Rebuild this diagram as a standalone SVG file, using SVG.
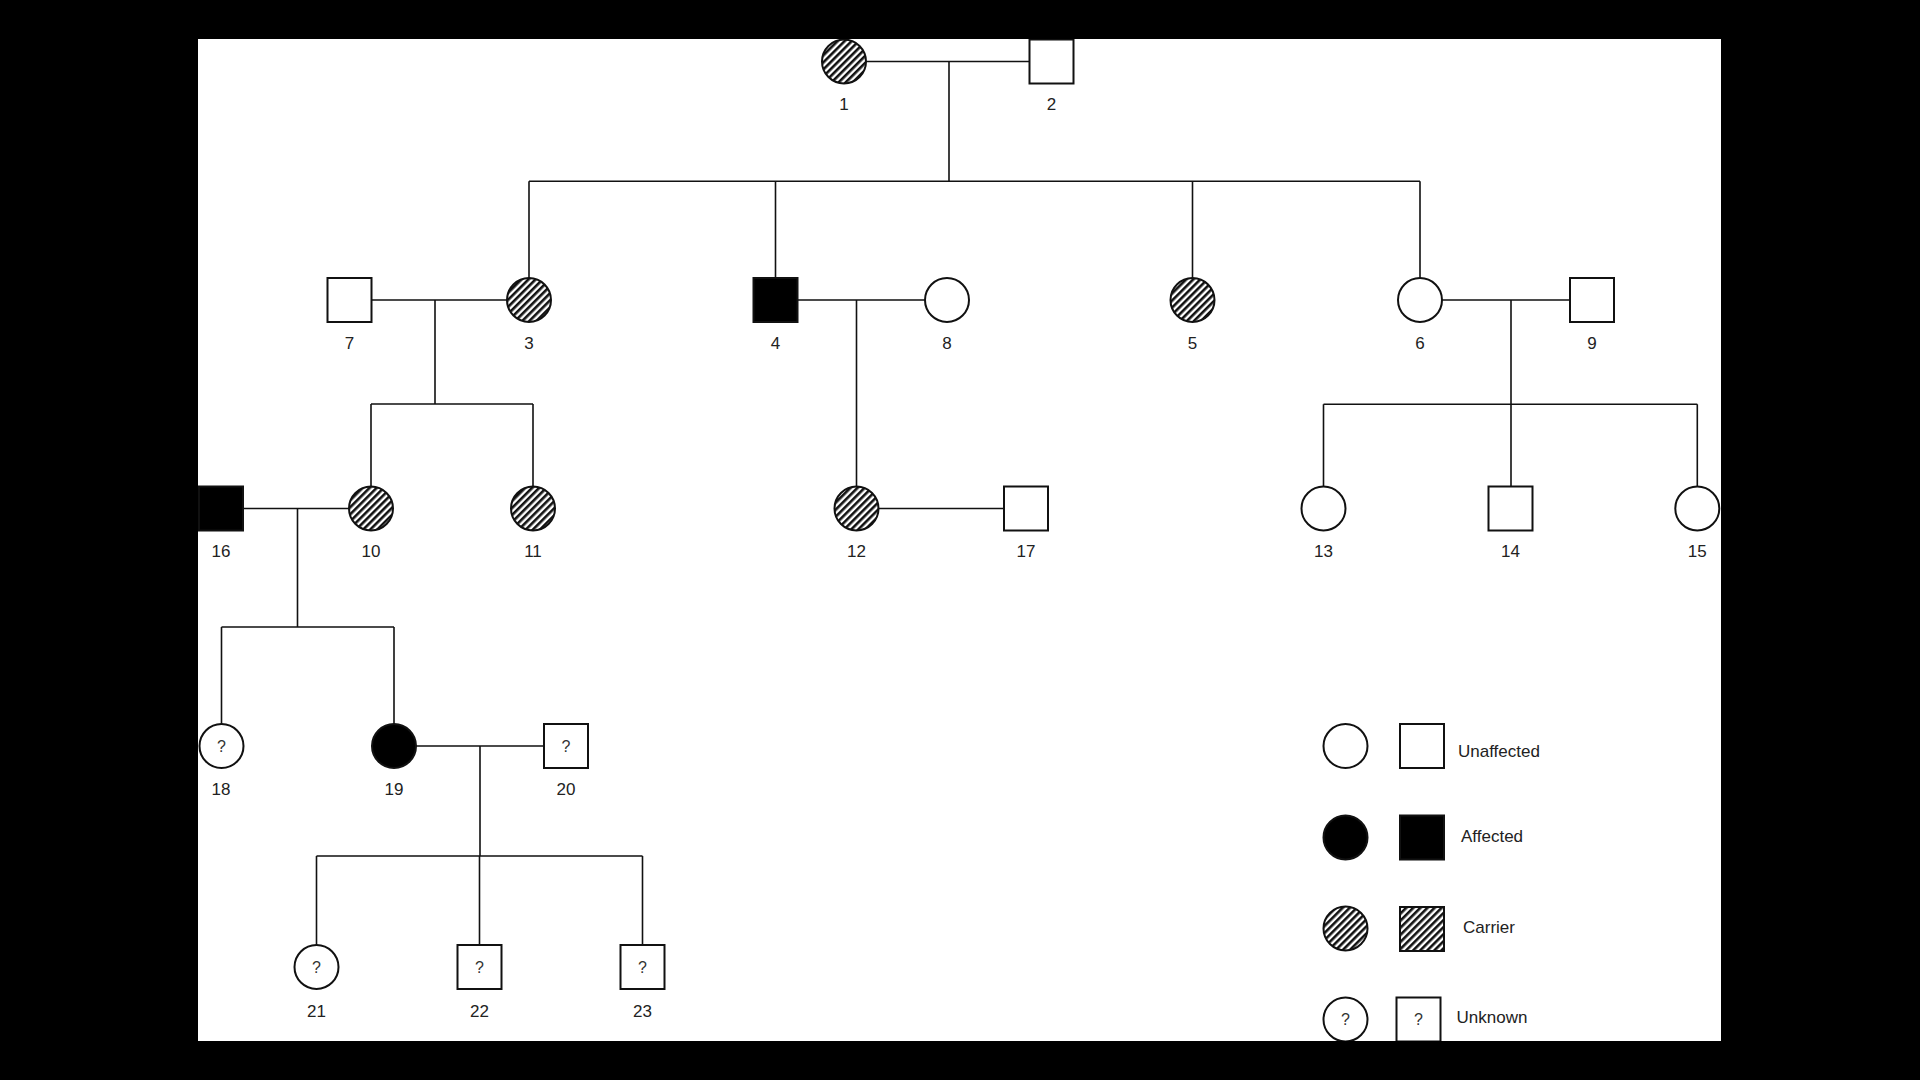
<svg xmlns="http://www.w3.org/2000/svg" width="1920" height="1080" viewBox="0 0 1920 1080">
<defs>
<pattern id="hatch" width="5" height="5" patternUnits="userSpaceOnUse" patternTransform="rotate(45)">
<rect width="5" height="5" fill="#fff"/>
<rect width="2.6" height="5" fill="#111"/>
</pattern>
<style>
.ln{stroke:#111;stroke-width:1.6;fill:none}
.nd{stroke:#111;stroke-width:2;fill:#fff}
.aff{fill:#000}
.car{fill:url(#hatch)}
.lbl{font-family:"Liberation Sans",Arial,sans-serif;font-size:17px;fill:#222;text-anchor:middle}
.q{font-family:"Liberation Sans",Arial,sans-serif;font-size:16px;fill:#333;text-anchor:middle}
.leg{font-family:"Liberation Sans",Arial,sans-serif;font-size:17px;fill:#222}
</style>
</defs>
<rect x="0" y="0" width="1920" height="1080" fill="#000"/>
<rect x="198" y="39" width="1523" height="1002" fill="#fff"/>

<g id="connectors" class="ln">
<path d="M866,61.5H1029.5M949,61.5V181.3M529,181.3H1420M529,181.3V278M775.5,181.3V278M1192.5,181.3V278M1420,181.3V278"/>
<path d="M371.5,300H507M435,300V404M371,404H533M371,404V486.5M533,404V486.5"/>
<path d="M797.5,300H925M856.5,300V486.5"/>
<path d="M1442,300H1570M1511,300V486.5M1323.5,404.3H1697.3M1323.5,404.3V486.5M1697.3,404.3V486.5"/>
<path d="M243,508.5H349M297.5,508.5V627M221.5,627H394M221.5,627V724M394,627V724"/>
<path d="M878.5,508.5H1004"/>
<path d="M416,746H544M480,746V856M316.5,856H642.5M316.5,856V945M479.5,856V945M642.5,856V945"/>
</g>

<g id="n1"><circle class="nd car" cx="844" cy="61.5" r="22"/><text class="lbl" x="844" y="110">1</text></g>
<g id="n2"><rect class="nd" x="1029.5" y="39.5" width="44" height="44"/><text class="lbl" x="1051.5" y="110">2</text></g>

<g id="n7"><rect class="nd" x="327.5" y="278" width="44" height="44"/><text class="lbl" x="349.5" y="349">7</text></g>
<g id="n3"><circle class="nd car" cx="529" cy="300" r="22"/><text class="lbl" x="529" y="349">3</text></g>
<g id="n4"><rect class="nd aff" x="753.5" y="278" width="44" height="44"/><text class="lbl" x="775.5" y="349">4</text></g>
<g id="n8"><circle class="nd" cx="947" cy="300" r="22"/><text class="lbl" x="947" y="349">8</text></g>
<g id="n5"><circle class="nd car" cx="1192.5" cy="300" r="22"/><text class="lbl" x="1192.5" y="349">5</text></g>
<g id="n6"><circle class="nd" cx="1420" cy="300" r="22"/><text class="lbl" x="1420" y="349">6</text></g>
<g id="n9"><rect class="nd" x="1570" y="278" width="44" height="44"/><text class="lbl" x="1592" y="349">9</text></g>

<g id="n16"><rect class="nd aff" x="199" y="486.5" width="44" height="44"/><text class="lbl" x="221" y="557">16</text></g>
<g id="n10"><circle class="nd car" cx="371" cy="508.5" r="22"/><text class="lbl" x="371" y="557">10</text></g>
<g id="n11"><circle class="nd car" cx="533" cy="508.5" r="22"/><text class="lbl" x="533" y="557">11</text></g>
<g id="n12"><circle class="nd car" cx="856.5" cy="508.5" r="22"/><text class="lbl" x="856.5" y="557">12</text></g>
<g id="n17"><rect class="nd" x="1004" y="486.5" width="44" height="44"/><text class="lbl" x="1026" y="557">17</text></g>
<g id="n13"><circle class="nd" cx="1323.5" cy="508.5" r="22"/><text class="lbl" x="1323.5" y="557">13</text></g>
<g id="n14"><rect class="nd" x="1488.5" y="486.5" width="44" height="44"/><text class="lbl" x="1510.5" y="557">14</text></g>
<g id="n15"><circle class="nd" cx="1697.3" cy="508.5" r="22"/><text class="lbl" x="1697.3" y="557">15</text></g>

<g id="n18"><circle class="nd" cx="221.5" cy="746" r="22"/><text class="q" x="221.5" y="751.5">?</text><text class="lbl" x="221" y="795">18</text></g>
<g id="n19"><circle class="nd aff" cx="394" cy="746" r="22"/><text class="lbl" x="394" y="795">19</text></g>
<g id="n20"><rect class="nd" x="544" y="724" width="44" height="44"/><text class="q" x="566" y="751.5">?</text><text class="lbl" x="566" y="795">20</text></g>

<g id="n21"><circle class="nd" cx="316.5" cy="967" r="22"/><text class="q" x="316.5" y="972.5">?</text><text class="lbl" x="316.5" y="1017">21</text></g>
<g id="n22"><rect class="nd" x="457.5" y="945" width="44" height="44"/><text class="q" x="479.5" y="972.5">?</text><text class="lbl" x="479.5" y="1017">22</text></g>
<g id="n23"><rect class="nd" x="620.5" y="945" width="44" height="44"/><text class="q" x="642.5" y="972.5">?</text><text class="lbl" x="642.5" y="1017">23</text></g>

<g id="legend">
<g id="leg-unaffected"><circle class="nd" cx="1345.5" cy="746" r="22"/><rect class="nd" x="1400" y="724" width="44" height="44"/><text class="leg" x="1458" y="757">Unaffected</text></g>
<g id="leg-affected"><circle class="nd aff" cx="1345.5" cy="837.5" r="22"/><rect class="nd aff" x="1400" y="815.5" width="44" height="44"/><text class="leg" x="1461" y="842">Affected</text></g>
<g id="leg-carrier"><circle class="nd car" cx="1345.5" cy="928.5" r="22"/><rect class="nd car" x="1400" y="907" width="44" height="44"/><text class="leg" x="1463" y="932.5">Carrier</text></g>
<g id="leg-unknown"><circle class="nd" cx="1345.5" cy="1019.5" r="22"/><text class="q" x="1345.5" y="1025">?</text><rect class="nd" x="1396.5" y="997.5" width="44" height="44"/><text class="q" x="1418.5" y="1025">?</text><text class="leg" x="1456.5" y="1023">Unknown</text></g>
</g>

<path d="M0,0H1920V1080H0Z M198,39V1041H1721V39Z" fill="#000" fill-rule="evenodd"/>
</svg>
